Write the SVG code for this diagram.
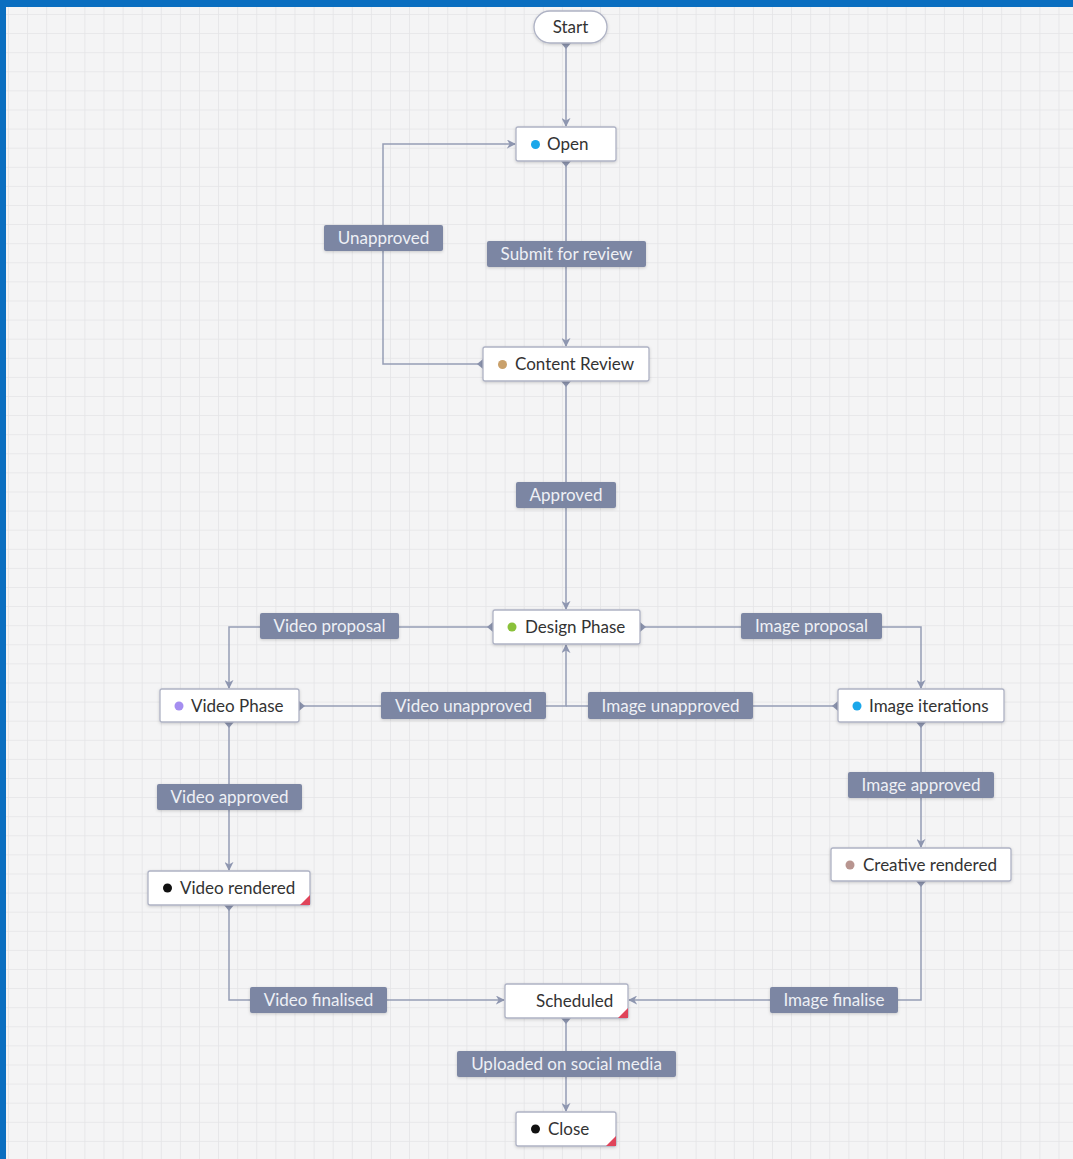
<svg xmlns="http://www.w3.org/2000/svg" width="1073" height="1159" viewBox="0 0 1073 1159">
<defs>
<pattern id="grid" x="8" y="14" width="19.1" height="19.1" patternUnits="userSpaceOnUse">
<path d="M0 0H19.1M0 0V19.1" fill="none" stroke="#e4e4e6" stroke-width="1.6"/>
</pattern>
<marker id="arr" viewBox="0 0 10 10" refX="9" refY="5" markerWidth="9" markerHeight="9" markerUnits="userSpaceOnUse" orient="auto">
<path d="M0 0L10 5L0 10L3 5Z" fill="#8e96b0"/>
</marker>
<filter id="sh" x="-10%" y="-30%" width="120%" height="160%">
<feDropShadow dx="0" dy="1" stdDeviation="1.5" flood-color="#000" flood-opacity="0.18"/>
</filter>
</defs>
<style>
.node rect.b{fill:#fff;stroke:#aeb2c4;stroke-width:1.3;filter:url(#sh)}
.node text{font-family:Lato,"Open Sans",sans-serif;font-size:17px;fill:#333;dominant-baseline:central}
.conn path{fill:none;stroke:#959db5;stroke-width:1.5}
.conn .nub path{fill:#8a92ac;stroke:none}
.lbl rect{fill:#7c86a3;filter:url(#sh)}
.lbl text{font-family:Lato,"Open Sans",sans-serif;font-size:17px;fill:#eef0f5;text-anchor:middle;dominant-baseline:central}
.corner{fill:#e0445a}
</style>
<rect x="0" y="0" width="1073" height="1159" fill="#f4f4f5"/>
<rect x="0" y="0" width="1073" height="1159" fill="url(#grid)"/>
<rect x="0" y="0" width="1073" height="7" fill="#0a6ec0"/>
<rect x="0" y="0" width="6" height="1159" fill="#0a6ec0"/>

<g id="connectors" class="conn">
<path d="M566 44V126" marker-end="url(#arr)"/>
<path d="M566 162V346" marker-end="url(#arr)"/>
<path d="M483 364H383V144H515" marker-end="url(#arr)"/>
<path d="M566 382V609" marker-end="url(#arr)"/>
<path d="M493 627H229V688" marker-end="url(#arr)"/>
<path d="M640 627H921V688" marker-end="url(#arr)"/>
<path d="M299 706H566V645" marker-end="url(#arr)"/>
<path d="M838 706H566"/>
<path d="M229 723V870" marker-end="url(#arr)"/>
<path d="M921 723V847" marker-end="url(#arr)"/>
<path d="M229 906V1000H504" marker-end="url(#arr)"/>
<path d="M921 882V1000H629" marker-end="url(#arr)"/>
<path d="M566 1019V1111" marker-end="url(#arr)"/>
<g class="nub">
<path d="M561 43H571L566 49Z"/>
<path d="M561 161H571L566 167Z"/>
<path d="M483 359V369L477 364Z"/>
<path d="M561 381H571L566 387Z"/>
<path d="M493 622V632L487 627Z"/>
<path d="M640 622V632L646 627Z"/>
<path d="M299 701V711L305 706Z"/>
<path d="M838 701V711L832 706Z"/>
<path d="M224 722H234L229 728Z"/>
<path d="M916 722H926L921 728Z"/>
<path d="M224 905H234L229 911Z"/>
<path d="M916 881H926L921 887Z"/>
<path d="M561 1018H571L566 1024Z"/>
</g>
</g>

<g id="labels">
<g class="lbl"><rect x="324" y="225" width="119" height="26" rx="2"/><text x="383.5" y="237.5">Unapproved</text></g>
<g class="lbl"><rect x="487" y="241" width="159" height="26" rx="2"/><text x="566.5" y="253.5">Submit for review</text></g>
<g class="lbl"><rect x="516" y="482" width="100" height="26" rx="2"/><text x="566" y="494.5">Approved</text></g>
<g class="lbl"><rect x="260" y="613" width="139" height="26" rx="2"/><text x="329.5" y="625.5">Video proposal</text></g>
<g class="lbl"><rect x="741" y="613" width="141" height="26" rx="2"/><text x="811.5" y="625.5">Image proposal</text></g>
<g class="lbl"><rect x="381" y="692" width="165" height="27" rx="2"/><text x="463.5" y="705">Video unapproved</text></g>
<g class="lbl"><rect x="588" y="692" width="165" height="27" rx="2"/><text x="670.5" y="705">Image unapproved</text></g>
<g class="lbl"><rect x="157" y="784" width="145" height="26" rx="2"/><text x="229.5" y="796.5">Video approved</text></g>
<g class="lbl"><rect x="848" y="772" width="146" height="26" rx="2"/><text x="921" y="784.5">Image approved</text></g>
<g class="lbl"><rect x="250" y="987" width="137" height="26" rx="2"/><text x="318.5" y="999.5">Video finalised</text></g>
<g class="lbl"><rect x="770" y="987" width="128" height="26" rx="2"/><text x="834" y="999.5">Image finalise</text></g>
<g class="lbl"><rect x="457" y="1051" width="219" height="26" rx="2"/><text x="566.5" y="1063.5">Uploaded on social media</text></g>
</g>

<g id="start" class="node"><rect class="b" x="534" y="11" width="73" height="32" rx="16"/><text x="570.5" y="26.5" text-anchor="middle">Start</text></g>
<g id="open" class="node"><rect class="b" x="516" y="127" width="100" height="34" rx="2"/><circle cx="535.5" cy="144.5" r="4.5" fill="#1aa7ea"/><text x="547" y="143.5">Open</text></g>
<g id="content-review" class="node"><rect class="b" x="483" y="347" width="166" height="34" rx="2"/><circle cx="502.5" cy="364.5" r="4.5" fill="#c9a06a"/><text x="515" y="363.5">Content Review</text></g>
<g id="design-phase" class="node"><rect class="b" x="493" y="610" width="147" height="34" rx="2"/><circle cx="512" cy="627" r="4.5" fill="#8ac13a"/><text x="525" y="626">Design Phase</text></g>
<g id="video-phase" class="node"><rect class="b" x="160" y="689" width="139" height="33" rx="2"/><circle cx="179" cy="706" r="4.5" fill="#a58ef0"/><text x="191" y="705">Video Phase</text></g>
<g id="image-iterations" class="node"><rect class="b" x="838" y="689" width="166" height="33" rx="2"/><circle cx="857" cy="706" r="4.5" fill="#1aa7ea"/><text x="869" y="705">Image iterations</text></g>
<g id="video-rendered" class="node"><rect class="b" x="148" y="871" width="162" height="34" rx="2"/><circle cx="167.5" cy="888" r="4.5" fill="#111"/><text x="180" y="887">Video rendered</text><path class="corner" d="M310 895V905H300Z"/></g>
<g id="creative-rendered" class="node"><rect class="b" x="831" y="848" width="180" height="33" rx="2"/><circle cx="850" cy="865" r="4.5" fill="#b89590"/><text x="863" y="864">Creative rendered</text></g>
<g id="scheduled" class="node"><rect class="b" x="505" y="984" width="123" height="34" rx="2"/><text x="536" y="1000">Scheduled</text><path class="corner" d="M628 1008V1018H618Z"/></g>
<g id="close" class="node"><rect class="b" x="516" y="1112" width="100" height="34" rx="2"/><circle cx="535.5" cy="1129" r="4.5" fill="#111"/><text x="548" y="1128">Close</text><path class="corner" d="M616 1136V1146H606Z"/></g>
</svg>
